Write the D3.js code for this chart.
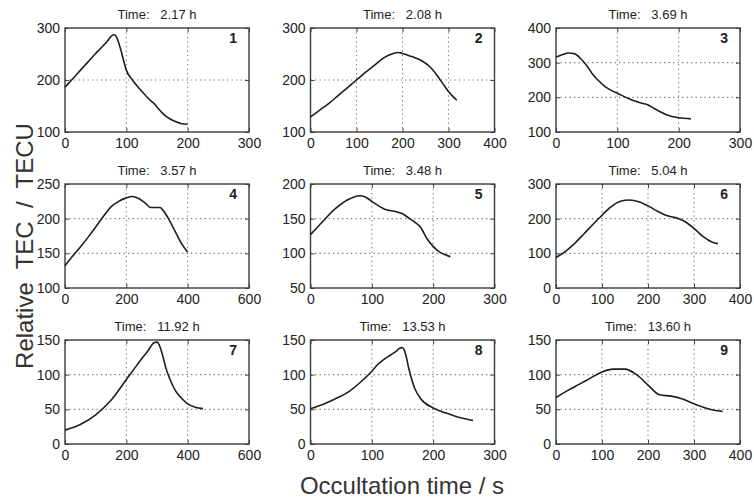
<!DOCTYPE html>
<html>
<head>
<meta charset="utf-8">
<script src="https://cdnjs.cloudflare.com/ajax/libs/d3/7.8.5/d3.min.js"></script>
<style>
body { margin: 0; background: #fff; }
svg { font-family: "Liberation Sans", Arial, sans-serif; }
</style>
</head>
<body>
<div id="chart"></div>
<script>
// occultation time (s) / relative TEC (TECU) for the nine occultations
var t1   = [0, 10, 20, 30, 40, 50, 60, 70, 75, 80, 85, 90, 95, 100, 110, 120, 130, 140, 145, 150, 160, 170, 180, 190, 200];
var tec1 = [186, 199, 212, 225, 238, 251, 263, 276, 284, 287, 280, 262, 240, 219, 200, 185, 172, 160, 155, 148, 135, 126, 120, 116, 115];

var t2   = [0, 20, 40, 60, 80, 100, 120, 140, 160, 180, 190, 200, 220, 240, 260, 270, 280, 290, 300, 310, 318];
var tec2 = [129, 142, 155, 170, 185, 200, 215, 229, 243, 251, 253, 251, 245, 238, 225, 215, 203, 190, 178, 168, 161];

var t3   = [0, 10, 20, 30, 40, 50, 60, 70, 80, 90, 100, 120, 140, 150, 160, 180, 200, 220];
var tec3 = [316, 323, 328, 326, 312, 292, 266, 247, 231, 220, 212, 195, 183, 178, 168, 150, 141, 138];

var t4   = [0, 25, 50, 75, 100, 125, 150, 175, 200, 220, 240, 260, 280, 300, 310, 320, 340, 360, 380, 400];
var tec4 = [132, 146, 159, 173, 188, 203, 217, 225, 230, 232, 229, 223, 216, 216, 216, 212, 198, 181, 164, 152];

var t5   = [0, 20, 40, 60, 70, 80, 90, 100, 120, 140, 150, 160, 170, 180, 190, 200, 210, 220, 228];
var tec5 = [127, 146, 164, 177, 181, 183, 181, 175, 164, 160, 157, 151, 145, 137, 121, 110, 102, 98, 95];

var t6   = [0, 20, 40, 60, 80, 100, 120, 140, 160, 180, 200, 220, 240, 260, 280, 300, 320, 340, 352];
var tec6 = [88, 105, 128, 155, 183, 210, 235, 250, 254, 249, 237, 222, 209, 203, 192, 172, 148, 132, 128];

var t7   = [0, 50, 100, 150, 200, 225, 250, 270, 290, 300, 310, 320, 330, 340, 360, 380, 400, 425, 450];
var tec7 = [20, 28, 42, 63, 93, 108, 123, 134, 146, 147, 140, 125, 108, 96, 77, 66, 58, 53, 51];

var t8   = [0, 20, 40, 60, 80, 100, 110, 120, 130, 140, 145, 150, 155, 160, 170, 180, 200, 220, 240, 265];
var tec8 = [51, 57, 65, 74, 88, 105, 115, 122, 128, 134, 138, 139, 130, 110, 80, 65, 52, 45, 39, 34];

var t9   = [0, 25, 50, 75, 100, 125, 150, 175, 200, 225, 250, 275, 300, 325, 350, 362];
var tec9 = [67, 77, 86, 95, 104, 108, 108, 100, 85, 71, 69, 65, 58, 52, 48, 47];

var times = ["2.17", "2.08", "3.69", "3.57", "3.48", "5.04", "11.92", "13.53", "13.60"];

var xTicks = [
  [0, 100, 200, 300], [0, 100, 200, 300, 400], [0, 100, 200, 300],
  [0, 200, 400, 600], [0, 100, 200, 300], [0, 100, 200, 300, 400],
  [0, 200, 400, 600], [0, 100, 200, 300], [0, 100, 200, 300, 400]
];
var yTicks = [
  [100, 200, 300], [100, 200, 300], [100, 200, 300, 400],
  [100, 150, 200, 250], [50, 100, 150, 200], [0, 100, 200, 300],
  [0, 50, 100, 150], [0, 50, 100, 150], [0, 50, 100, 150]
];

var series = [[t1, tec1], [t2, tec2], [t3, tec3], [t4, tec4], [t5, tec5],
              [t6, tec6], [t7, tec7], [t8, tec8], [t9, tec9]];

var width = 754, height = 498;
var pw = 184, ph = 104;

var svg = d3.select("#chart").append("svg")
    .attr("width", width)
    .attr("height", height);

series.forEach(function(s, i) {
  var col = i % 3, row = Math.floor(i / 3);
  var g = svg.append("g")
      .attr("transform", "translate(" + (65 + col * 245.5) + "," + (28 + row * 156) + ")");

  var x = d3.scaleLinear().domain(d3.extent(xTicks[i])).range([0, pw]);
  var y = d3.scaleLinear().domain(d3.extent(yTicks[i])).range([ph, 0]);

  // dotted grid at the inner ticks
  g.selectAll(".gx").data(xTicks[i].slice(1, -1)).enter().append("line")
      .attr("x1", function(d) { return x(d); }).attr("x2", function(d) { return x(d); })
      .attr("y1", 0).attr("y2", ph)
      .attr("stroke", "#777").attr("stroke-width", 1.1).attr("stroke-dasharray", "1.3,3.2");
  g.selectAll(".gy").data(yTicks[i].slice(1, -1)).enter().append("line")
      .attr("y1", function(d) { return y(d); }).attr("y2", function(d) { return y(d); })
      .attr("x1", 0).attr("x2", pw)
      .attr("stroke", "#777").attr("stroke-width", 1.1).attr("stroke-dasharray", "1.3,3.2");

  // axes, MATLAB style ticks pointing in
  var ax = g.append("g").attr("transform", "translate(0," + ph + ")")
      .call(d3.axisBottom(x).tickValues(xTicks[i]).tickSizeInner(-4).tickSizeOuter(0).tickPadding(6).tickFormat(d3.format("d")));
  var ay = g.append("g")
      .call(d3.axisLeft(y).tickValues(yTicks[i]).tickSizeInner(-4).tickSizeOuter(0).tickPadding(5).tickFormat(d3.format("d")));
  var at = g.append("g")
      .call(d3.axisTop(x).tickValues(xTicks[i]).tickSizeInner(-4).tickSizeOuter(0).tickFormat(""));
  var ar = g.append("g").attr("transform", "translate(" + pw + ",0)")
      .call(d3.axisRight(y).tickValues(yTicks[i]).tickSizeInner(-4).tickSizeOuter(0).tickFormat(""));

  [ax, ay, at, ar].forEach(function(a) {
    a.select(".domain").remove();
    a.selectAll("line").attr("stroke", "#444");
    a.selectAll("text").attr("fill", "#222").style("font-size", "14px")
        .style("font-family", "'Liberation Sans', Arial, sans-serif");
  });

  g.append("rect")
      .attr("width", pw).attr("height", ph)
      .attr("fill", "none").attr("stroke", "#3a3a3a").attr("stroke-width", 1.4);

  var line = d3.line()
      .x(function(d, k) { return x(s[0][k]); })
      .y(function(d) { return y(d); })
      .curve(d3.curveMonotoneX);

  g.append("path")
      .datum(s[1])
      .attr("d", line)
      .attr("fill", "none")
      .attr("stroke", "#1e1e1e")
      .attr("stroke-width", 1.6);

  g.append("text")
      .attr("x", pw / 2).attr("y", -9)
      .attr("text-anchor", "middle")
      .style("white-space", "pre")
      .style("font-size", "13px")
      .attr("fill", "#222")
      .text("Time:   " + times[i] + " h");

  g.append("text")
      .attr("x", pw - 12).attr("y", 15)
      .attr("text-anchor", "end")
      .style("font-size", "14px")
      .style("font-weight", "bold")
      .attr("fill", "#222")
      .text(i + 1);
});

svg.append("text")
    .attr("transform", "translate(33,246) rotate(-90)")
    .attr("text-anchor", "middle")
    .style("font-size", "24px")
    .style("white-space", "pre")
    .attr("fill", "#333")
    .text("Relative  TEC  /  TECU");

svg.append("text")
    .attr("x", 402).attr("y", 494)
    .attr("text-anchor", "middle")
    .style("font-size", "24px")
    .attr("fill", "#333")
    .text("Occultation time / s");
</script>
</body>
</html>
